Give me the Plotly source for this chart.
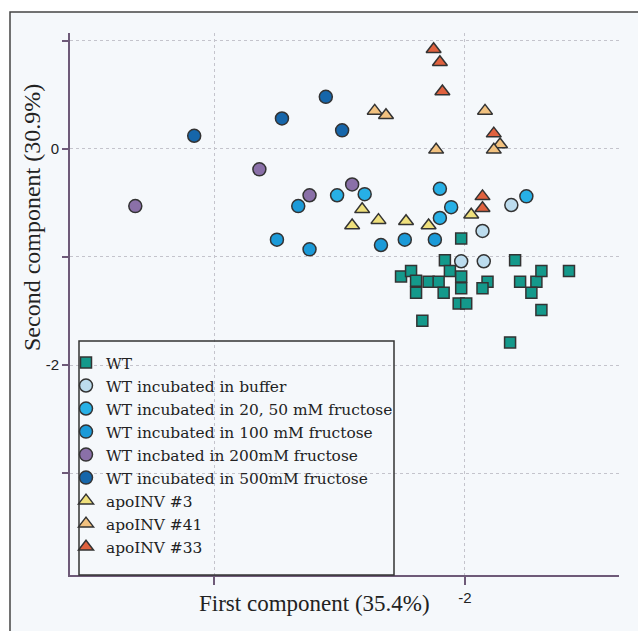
import plotly.graph_objects as go

# ---- data ----
wt_x = [-2.03, -2.16, -1.60, -2.51, -2.43, -2.12, -2.39, -2.29, -2.21, -2.03, -2.03, -2.39, -2.17,
        -2.05, -1.99, -2.34, -1.82, -1.86, -1.56, -1.43, -1.39, -1.47, -1.39, -1.17, -1.64]
wt_y = [-0.83, -1.03, -1.03, -1.18, -1.13, -1.13, -1.22, -1.23, -1.23, -1.18, -1.29, -1.33, -1.33,
        -1.43, -1.43, -1.59, -1.23, -1.29, -1.23, -1.23, -1.13, -1.33, -1.49, -1.13, -1.79]

buf_x = [-1.86, -2.03, -1.85, -1.63]
buf_y = [-0.76, -1.04, -1.04, -0.52]

f2050_x = [-3.02, -2.80, -2.20, -2.11, -2.20, -1.51]
f2050_y = [-0.43, -0.42, -0.37, -0.54, -0.64, -0.44]

f100_x = [-3.50, -3.33, -3.24, -2.67, -2.48, -2.24]
f100_y = [-0.84, -0.53, -0.93, -0.89, -0.84, -0.84]

f200_x = [-4.63, -3.64, -3.24, -2.90]
f200_y = [-0.53, -0.19, -0.43, -0.33]

f500_x = [-4.16, -3.46, -3.11, -2.98]
f500_y = [0.12, 0.28, 0.48, 0.17]

inv3_x = [-2.82, -2.90, -2.69, -2.47, -2.29, -1.95]
inv3_y = [-0.56, -0.71, -0.66, -0.67, -0.71, -0.61]

inv41_x = [-2.72, -2.63, -2.23, -1.84, -1.72, -1.77]
inv41_y = [0.35, 0.31, -0.01, 0.35, 0.04, -0.01]

inv33_x = [-2.25, -2.20, -2.18, -1.77, -1.86, -1.86]
inv33_y = [0.92, 0.80, 0.53, 0.14, -0.44, -0.55]

x_tickvals = [-4, -2]
x_ticktext = ["", "-2"]
y_tickvals = [1, 0, -1, -2, -3]
y_ticktext = ["", "0", "", "-2", ""]

series = [
    ("WT", wt_x, wt_y, "square", "#14998b", 11),
    ("WT incubated in buffer", buf_x, buf_y, "circle", "#bcdcee", 13),
    ("WT incubated in 20, 50 mM fructose", f2050_x, f2050_y, "circle", "#27b0e6", 13),
    ("WT incubated in 100 mM fructose", f100_x, f100_y, "circle", "#1b9ad8", 13),
    ("WT incbated in 200mM fructose", f200_x, f200_y, "circle", "#8a70a8", 13),
    ("WT incubated in 500mM fructose", f500_x, f500_y, "circle", "#1666aa", 13),
    ("apoINV #3", inv3_x, inv3_y, "triangle-up", "#efe07c", 13),
    ("apoINV #41", inv41_x, inv41_y, "triangle-up", "#f2c280", 13),
    ("apoINV #33", inv33_x, inv33_y, "triangle-up", "#e0623f", 13),
]

fig = go.Figure()
for name, xs, ys, sym, col, sz in series:
    fig.add_trace(go.Scatter(
        x=xs, y=ys, mode="markers", name=name,
        marker=dict(symbol=sym, color=col, size=sz,
                    line=dict(color="#333333", width=1.5)),
    ))

W, H = 638, 631
L, R, T, B = 70, 19, 33, 56
pw, ph = W - L - R, H - T - B

def px(xp):
    return (xp - L) / pw

def py(yp):
    return (H - B - yp) / ph

axis_col = "#6e5a78"
fig.update_layout(
    width=W, height=H,
    margin=dict(l=L, r=R, t=T, b=B),
    paper_bgcolor="white",
    plot_bgcolor="rgba(0,0,0,0)",
    showlegend=True,
    legend=dict(
        x=px(66), y=py(346), xanchor="left", yanchor="top",
        bgcolor="rgba(0,0,0,0)", borderwidth=0,
        font=dict(family="DejaVu Serif", size=15.4, color="#222"),
        tracegroupgap=0, itemwidth=30,
    ),
    xaxis=dict(
        range=[-5.151, -0.771], tickvals=x_tickvals, ticktext=x_ticktext,
        showgrid=True, gridcolor="#c4c4cc", griddash="dot", gridwidth=1,
        zeroline=False, showline=True, linecolor=axis_col, linewidth=2,
        ticks="outside", ticklen=8, tickcolor=axis_col, tickwidth=2,
        tickfont=dict(family="Liberation Sans", size=15, color="#222"),
    ),
    yaxis=dict(
        range=[-3.94, 1.07], tickvals=y_tickvals, ticktext=y_ticktext,
        showgrid=True, gridcolor="#c4c4cc", griddash="dot", gridwidth=1,
        zeroline=False, showline=True, linecolor=axis_col, linewidth=2,
        ticks="outside", ticklen=6, tickcolor=axis_col, tickwidth=2,
        tickfont=dict(family="Liberation Sans", size=15, color="#222"),
    ),
    shapes=[
        dict(type="rect", xref="paper", yref="paper", layer="below",
             x0=px(10), x1=px(645), y0=py(645), y1=py(12),
             line=dict(color="#444444", width=1.5), fillcolor="#f5f8fb"),
        dict(type="rect", xref="paper", yref="paper", layer="above",
             x0=px(79), x1=px(394), y0=py(575), y1=py(341),
             line=dict(color="#333333", width=1.5), fillcolor="rgba(0,0,0,0)"),
    ],
    annotations=[
        dict(text="First component (35.4%)", xref="paper", yref="paper",
             x=px(314), y=py(603), xanchor="center", yanchor="middle", showarrow=False,
             font=dict(family="Liberation Serif", size=23, color="#222")),
        dict(text="Second component (30.9%)", xref="paper", yref="paper",
             x=px(32), y=py(218), xanchor="center", yanchor="middle", showarrow=False,
             textangle=-90,
             font=dict(family="Liberation Serif", size=24, color="#222")),
    ],
)

fig.write_html("out.html")
